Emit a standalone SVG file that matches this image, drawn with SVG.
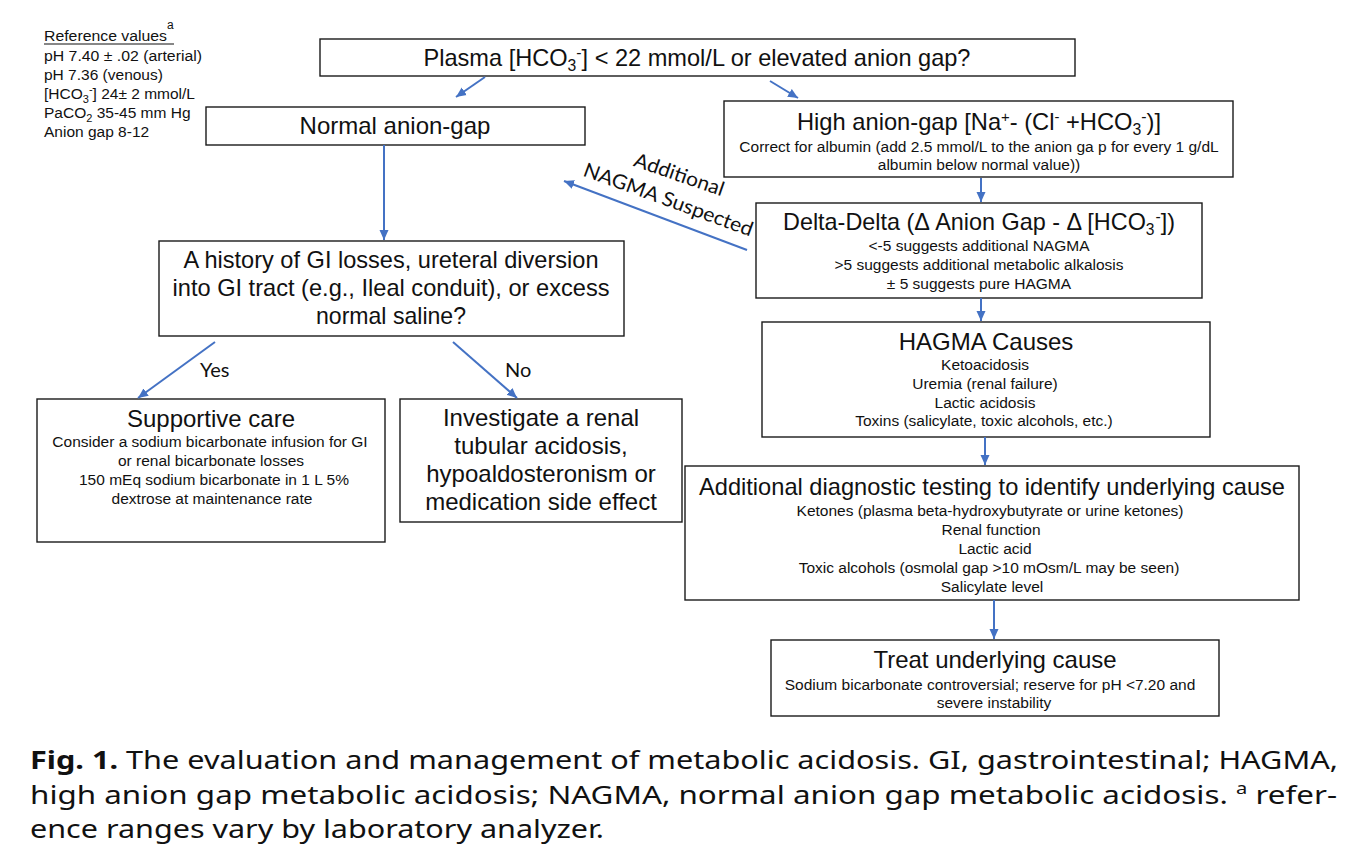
<svg xmlns="http://www.w3.org/2000/svg" width="1367" height="859" viewBox="0 0 1367 859">
<style>
.box{fill:#fff;stroke:#1a1a1a;stroke-width:1.4}
.t{font-family:"Liberation Sans",Arial,sans-serif;fill:#111;text-anchor:middle}
.h{font-size:24px}
.s{font-size:15.5px}
.ref{font-family:"Liberation Sans",Arial,sans-serif;font-size:15.5px;fill:#111}
.lbl{font-family:Lato,"Open Sans",sans-serif;font-size:20px;fill:#111}
.cap{font-family:"Noto Sans","Open Sans",sans-serif;font-size:25px;fill:#111}
.conn line{stroke:#4472C4;stroke-width:2;marker-end:url(#ah)}
</style>
<defs>
<marker id="ah" markerUnits="userSpaceOnUse" markerWidth="11" markerHeight="10" refX="10" refY="5" orient="auto">
<path d="M0,0.5 L10,5 L0,9.5 z" fill="#4472C4"/>
</marker>
</defs>
<rect width="1367" height="859" fill="#fff"/>

<g id="reference-values">
<text class="ref" x="44" y="41" textLength="123" lengthAdjust="spacingAndGlyphs">Reference values</text>
<line x1="44" y1="44" x2="174" y2="44" stroke="#111" stroke-width="1.2"/>
<text class="ref" x="167" y="29" style="font-size:12px">a</text>
<text class="ref" x="44" y="61" textLength="158" lengthAdjust="spacingAndGlyphs">pH 7.40 ± .02 (arterial)</text>
<text class="ref" x="44" y="80">pH 7.36 (venous)</text>
<text class="ref" x="44" y="99">[HCO<tspan dy="4" style="font-size:11px">3</tspan><tspan dy="-10" style="font-size:11px">-</tspan><tspan dy="6">] 24± 2 mmol/L</tspan></text>
<text class="ref" x="44" y="118">PaCO<tspan dy="4" style="font-size:11px">2</tspan><tspan dy="-4">  35-45 mm Hg</tspan></text>
<text class="ref" x="44" y="137">Anion gap 8-12</text>
</g>

<g id="plasma">
<rect class="box" x="320" y="39" width="755" height="37"/>
<text class="t h" x="697" y="66" textLength="547" lengthAdjust="spacingAndGlyphs">Plasma [HCO<tspan dy="5" style="font-size:16px">3</tspan><tspan dy="-13" style="font-size:16px">-</tspan><tspan dy="8">] &lt; 22 mmol/L or elevated anion gap?</tspan></text>
</g>

<g id="normal-anion-gap">
<rect class="box" x="206" y="107" width="379" height="38"/>
<text class="t h" x="395" y="134">Normal anion-gap</text>
</g>

<g id="high-anion-gap">
<rect class="box" x="724" y="101" width="509" height="76"/>
<text class="t h" x="979" y="130" textLength="364" lengthAdjust="spacingAndGlyphs">High anion-gap [Na<tspan dy="-8" style="font-size:15px">+</tspan><tspan dy="8">- (Cl</tspan><tspan dy="-8" style="font-size:15px">-</tspan><tspan dy="8"> +HCO</tspan><tspan dy="5" style="font-size:16px">3</tspan><tspan dy="-13" style="font-size:16px">-</tspan><tspan dy="8">)]</tspan></text>
<text class="t s" x="979" y="152">Correct for albumin (add 2.5 mmol/L to the anion ga p for every 1 g/dL</text>
<text class="t s" x="979" y="170">albumin below normal value))</text>
</g>

<g id="delta-delta">
<rect class="box" x="756" y="203" width="446" height="95"/>
<text class="t h" x="979" y="230" textLength="392" lengthAdjust="spacingAndGlyphs">Delta-Delta (Δ Anion Gap - Δ [HCO<tspan dy="5" style="font-size:16px">3</tspan><tspan dx="1" dy="-13" style="font-size:16px">-</tspan><tspan dy="8">])</tspan></text>
<text class="t s" x="979" y="251">&lt;-5 suggests additional NAGMA</text>
<text class="t s" x="979" y="270">&gt;5 suggests additional metabolic alkalosis</text>
<text class="t s" x="979" y="289">± 5 suggests pure HAGMA</text>
</g>

<g id="hagma-causes">
<rect class="box" x="762" y="322" width="448" height="115"/>
<text class="t h" x="986" y="350">HAGMA Causes</text>
<text class="t s" x="985" y="370">Ketoacidosis</text>
<text class="t s" x="985" y="389">Uremia (renal failure)</text>
<text class="t s" x="985" y="408">Lactic acidosis</text>
<text class="t s" x="984" y="426">Toxins (salicylate, toxic alcohols, etc.)</text>
</g>

<g id="additional-testing">
<rect class="box" x="685" y="466" width="614" height="134"/>
<text class="t h" x="992" y="495" textLength="586" lengthAdjust="spacingAndGlyphs">Additional diagnostic testing to identify underlying cause</text>
<text class="t s" x="990" y="516">Ketones (plasma beta-hydroxybutyrate or urine ketones)</text>
<text class="t s" x="991" y="535">Renal function</text>
<text class="t s" x="995" y="554">Lactic acid</text>
<text class="t s" x="989" y="573">Toxic alcohols (osmolal gap &gt;10 mOsm/L may be seen)</text>
<text class="t s" x="992" y="592">Salicylate level</text>
</g>

<g id="treat">
<rect class="box" x="771" y="640" width="448" height="76"/>
<text class="t h" x="995" y="668">Treat underlying cause</text>
<text class="t s" x="990" y="690">Sodium bicarbonate controversial; reserve for pH &lt;7.20 and</text>
<text class="t s" x="994" y="708">severe instability</text>
</g>

<g id="history">
<rect class="box" x="159" y="241" width="465" height="95"/>
<text class="t h" x="391" y="268" textLength="415" lengthAdjust="spacingAndGlyphs">A history of GI losses, ureteral diversion</text>
<text class="t h" x="391" y="296" textLength="437" lengthAdjust="spacingAndGlyphs">into GI tract (e.g., Ileal conduit), or excess</text>
<text class="t h" x="391" y="324" textLength="150" lengthAdjust="spacingAndGlyphs">normal saline?</text>
</g>

<g id="supportive-care">
<rect class="box" x="37" y="399" width="348" height="143"/>
<text class="t h" x="211" y="427">Supportive care</text>
<text class="t s" x="210" y="447">Consider a sodium bicarbonate infusion for GI</text>
<text class="t s" x="211" y="466">or renal bicarbonate losses</text>
<text class="t s" x="214" y="485">150 mEq sodium bicarbonate in 1 L 5%</text>
<text class="t s" x="212" y="504">dextrose at maintenance rate</text>
</g>

<g id="investigate">
<rect class="box" x="400" y="399" width="282" height="123"/>
<text class="t h" x="541" y="426">Investigate a renal</text>
<text class="t h" x="541" y="454">tubular acidosis,</text>
<text class="t h" x="541" y="482">hypoaldosteronism or</text>
<text class="t h" x="541" y="510">medication side effect</text>
</g>

<g id="connectors" class="conn">
<line x1="485" y1="77" x2="456" y2="97"/>
<line x1="770" y1="81" x2="798" y2="98"/>
<line x1="384" y1="145" x2="384" y2="240"/>
<line x1="747" y1="250" x2="564" y2="181"/>
<line x1="981" y1="178" x2="981" y2="202"/>
<line x1="981" y1="298" x2="981" y2="321"/>
<line x1="985" y1="437" x2="985" y2="465"/>
<line x1="994" y1="600" x2="994" y2="639"/>
<line x1="215" y1="342" x2="138" y2="398"/>
<line x1="453" y1="342" x2="517" y2="398"/>
</g>

<g id="connector-labels">
<text class="lbl" x="200" y="377">Yes</text>
<text class="lbl" x="505" y="377">No</text>
<text class="lbl" text-anchor="middle" transform="translate(677,181) rotate(19)" textLength="94" lengthAdjust="spacingAndGlyphs">Additional</text>
<text class="lbl" text-anchor="middle" transform="translate(666,206) rotate(20)" textLength="179" lengthAdjust="spacingAndGlyphs">NAGMA Suspected</text>
</g>

<g id="caption">
<text class="cap" x="30" y="769" textLength="1308" lengthAdjust="spacingAndGlyphs"><tspan font-weight="bold">Fig. 1.</tspan>  The evaluation and management of metabolic acidosis. GI, gastrointestinal; HAGMA,</text>
<text class="cap" x="30" y="804" textLength="1307" lengthAdjust="spacingAndGlyphs">high anion gap metabolic acidosis; NAGMA, normal anion gap metabolic acidosis. <tspan dy="-10" style="font-size:16px">a</tspan><tspan dy="10"> refer-</tspan></text>
<text class="cap" x="30" y="838" textLength="574" lengthAdjust="spacingAndGlyphs">ence ranges vary by laboratory analyzer.</text>
</g>
</svg>
